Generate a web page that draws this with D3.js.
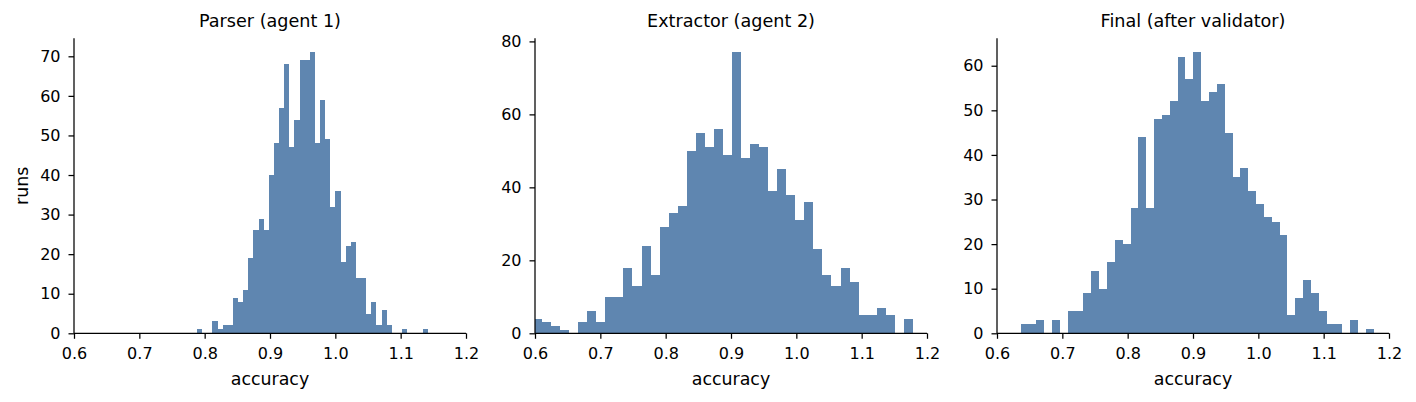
<!DOCTYPE html>
<html>
<head>
<meta charset="utf-8">
<script src="https://cdn.jsdelivr.net/npm/d3@7"></script>
<style>
    body { margin: 0; background: #fff; }
    text { font-family: 'DejaVu Sans', sans-serif; fill: #000; }
</style>
</head>
<body>
<div id="chart"></div>
<script>
// histogram counts per bin, 1000 runs each
var parserCounts = [1, 0, 0, 3, 1, 2, 2, 9, 8, 11, 19, 26, 29, 26, 40, 48, 57, 68, 47, 54, 69, 69, 71, 48, 59,
    49, 32, 36, 18, 22, 23, 14, 14, 5, 8, 2, 6, 2, 0, 0, 1, 0, 0, 0, 1];
var extractorCounts = [4, 3, 2, 1, 0, 3, 6, 3, 10, 10, 18, 13, 24, 16, 29, 33, 35, 50, 55, 51, 56, 49, 77, 48, 52,
    51, 39, 45, 38, 31, 36, 23, 16, 13, 18, 14, 5, 5, 7, 5, 0, 4];
var finalCounts = [2, 2, 3, 0, 3, 0, 5, 5, 9, 14, 10, 16, 21, 20, 28, 44, 28, 48, 49, 52, 62, 57, 63, 52, 54,
    56, 45, 35, 37, 32, 29, 26, 25, 22, 4, 8, 12, 9, 5, 2, 2, 0, 3, 0, 1];

// first bin edge and bin width (accuracy units)
var binStarts = [0.7883, 0.5969, 0.6363];
var binWidths = [0.007847, 0.013845, 0.01201];

var titles = ['Parser (agent 1)', 'Extractor (agent 2)', 'Final (after validator)'];
var xTicks = [0.6, 0.7, 0.8, 0.9, 1.0, 1.1, 1.2];
var yTicks = [
    [0, 10, 20, 30, 40, 50, 60, 70],
    [0, 20, 40, 60, 80],
    [0, 10, 20, 30, 40, 50, 60]
];

var allCounts = [parserCounts, extractorCounts, finalCounts];
var panelLeft = [74, 535, 997];
var panelWidth = 392;
var plotTop = 38.3, plotBottom = 333.3;
var barColor = '#5f86b0';

var svg = d3
    .select('#chart')
    .append('svg')
    .attr('width', 1416)
    .attr('height', 402);

allCounts.forEach((counts, p) => {
    var x = d3
        .scaleLinear()
        .domain([0.6, 1.2])
        .range([panelLeft[p], panelLeft[p] + panelWidth]);
    var y = d3
        .scaleLinear()
        .domain([0, d3.max(counts) * 1.05])
        .range([plotBottom, plotTop]);

    var bins = counts.map((c, i) => ({
        x0: binStarts[p] + i * binWidths[p],
        x1: binStarts[p] + (i + 1) * binWidths[p],
        n: c
    }));

    svg.append('clipPath')
        .attr('id', `clip${p}`)
        .append('rect')
        .attr('x', panelLeft[p])
        .attr('y', plotTop)
        .attr('width', panelWidth)
        .attr('height', plotBottom - plotTop);

    svg.append('g')
        .attr('clip-path', `url(#clip${p})`)
        .selectAll('rect')
        .data(bins.filter(b => b.n > 0))
        .join('rect')
        .attr('x', b => x(b.x0))
        .attr('width', b => x(b.x1) - x(b.x0))
        .attr('y', b => y(b.n))
        .attr('height', b => y(0) - y(b.n))
        .attr('fill', barColor)
        .attr('shape-rendering', 'crispEdges');

    var xAxis = svg.append('g')
        .attr('transform', `translate(0,${plotBottom})`)
        .call(d3.axisBottom(x).tickValues(xTicks).tickFormat(d3.format('.1f')).tickSize(5.5).tickPadding(8.5));
    var yAxis = svg.append('g')
        .attr('transform', `translate(${panelLeft[p]},0)`)
        .call(d3.axisLeft(y).tickValues(yTicks[p]).tickSize(5.5).tickPadding(8));

    [xAxis, yAxis].forEach(a => {
        a.select('.domain').attr('stroke', '#000').attr('stroke-width', 1.25);
        a.selectAll('.tick line').attr('stroke', '#000').attr('stroke-width', 1.25);
        a.selectAll('.tick text')
            .style('font-family', "'DejaVu Sans', sans-serif")
            .style('font-size', '16px')
            .attr('fill', '#000');
    });
    // matplotlib-style spines: plain lines, no end caps
    xAxis.select('.domain').attr('d', `M${x(0.6)},0H${x(1.2)}`);
    yAxis.select('.domain').attr('d', `M0,${plotBottom}V${plotTop}`);

    svg.append('text')
        .attr('x', panelLeft[p] + panelWidth / 2)
        .attr('y', 27)
        .attr('text-anchor', 'middle')
        .style('font-size', '17.6px')
        .text(titles[p]);

    svg.append('text')
        .attr('x', panelLeft[p] + panelWidth / 2)
        .attr('y', 385)
        .attr('text-anchor', 'middle')
        .style('font-size', '17.4px')
        .text('accuracy');
});

svg.append('text')
    .attr('transform', `translate(28,${(plotTop + plotBottom) / 2}) rotate(-90)`)
    .attr('text-anchor', 'middle')
    .style('font-size', '17.4px')
    .text('runs');
</script>
</body>
</html>
